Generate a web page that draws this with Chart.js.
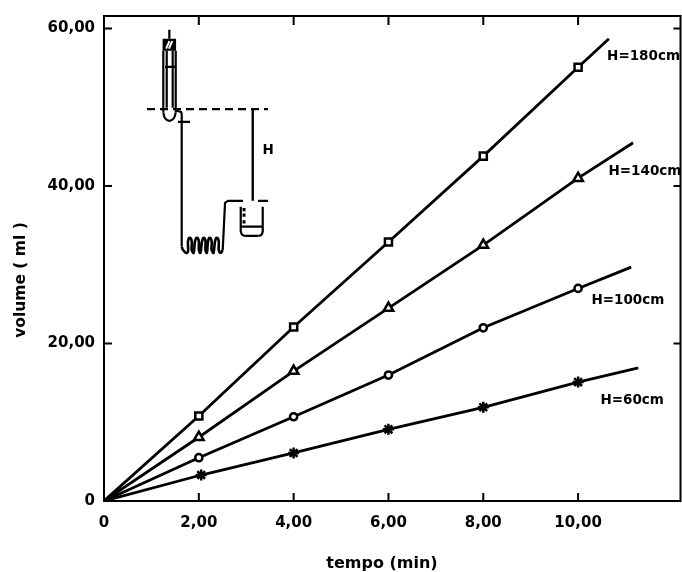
<!DOCTYPE html>
<html lang="en">
<head>
<meta charset="UTF-8">
<title>volume x tempo</title>
<script src="https://cdn.jsdelivr.net/npm/chart.js"></script>
<style>
    body { margin: 0; background: #fff; }
    canvas { display: block; }
</style>
</head>
<body>
<canvas id="chart" width="682" height="572"></canvas>
<script>
    // tick labels
    const xTicks = [0, 2, 4, 6, 8, 10];
    const yTicks = [0, 20, 40, 60];

    // series: first point is the origin, last is the end of the drawn line
    const h180X = [0, 2, 4, 6, 8, 10, 10.65];
    const h180Y = [0, 10.8, 22.1, 32.9, 43.8, 55.1, 58.7];
    const h140X = [0, 2, 4, 6, 8, 10, 11.16];
    const h140Y = [0, 8.1, 16.5, 24.5, 32.5, 41, 45.5];
    const h100X = [0, 2, 4, 6, 8, 10, 11.12];
    const h100Y = [0, 5.5, 10.7, 16, 22, 27, 29.7];
    const h60X = [0, 2.05, 4, 6, 8, 10, 11.27];
    const h60Y = [0, 3.3, 6.1, 9.1, 11.9, 15.1, 16.9];

    // text placed in the plot, in axis units
    const noteText = ['H=180cm', 'H=140cm', 'H=100cm', 'H=60cm', 'H'];
    const noteX = [11.38, 11.41, 11.05, 11.14, 3.46];
    const noteY = [56.4, 41.9, 25.5, 12.74, 44.47];

    // apparatus sketch, in axis units, null breaks the line
    const tubeX = [1.378, 1.378, null, 1.251, 1.251, null, 1.513, 1.513, null, 1.323, 1.323, null, 1.449, 1.449, null,
        1.287, 1.519, null, 1.513, 1.624, 1.639, 1.639, null, 1.561, 1.814, null,
        2.504, 2.553, 2.616, 2.932, null, 2.884, 2.884, null, 3.348, 3.348, null, 2.975, 3.26, null, 2.884, 3.348, null,
        3.249, 3.46];
    const tubeY = [59.85, 58.7, null, 57.2, 49.3, null, 57.2, 49.3, null, 57.2, 49.94, null, 57.2, 49.94, null,
        55.15, 55.15, null, 49.6, 49.43, 49.2, 32.31, null, 48.16, 48.16, null,
        31.89, 37.87, 38.12, 38.12, null, 37.36, 34.18, null, 37.36, 34.18, null, 33.67, 33.67, null, 34.85, 34.85, null,
        38.12, 38.12];
    const coilX = [1.639, 1.667, 1.73, 1.772, 1.772, 1.81, 1.85, 1.85, 1.89, 1.92, 1.96, 2.0, 2.0, 2.035, 2.068, 2.105, 2.14,
        2.14, 2.17, 2.194, 2.23, 2.27, 2.27, 2.31, 2.342, 2.38, 2.42, 2.42, 2.46, 2.504];
    const coilY = [32.31, 31.89, 31.51, 31.7, 33.0, 33.42, 33.0, 31.9, 31.51, 33.0, 33.42, 33.0, 31.9, 31.51, 33.0, 33.42, 33.0,
        31.9, 31.51, 33.0, 33.42, 33.0, 31.9, 31.51, 33.0, 33.42, 33.0, 31.9, 31.51, 31.89];
    const bendX = [1.251, 1.29, 1.38, 1.47, 1.513, null, 2.884, 2.92, 2.975, null, 3.26, 3.32, 3.348];
    const bendY = [49.3, 48.6, 48.28, 48.6, 49.3, null, 34.18, 33.8, 33.67, null, 33.67, 33.8, 34.18];
    const levelX = [0.907, 3.46];
    const levelY = [49.77, 49.77];
    const heightX = [3.137, 3.137];
    const heightY = [49.77, 38.12];
    const plugX = [1.378, 1.378];
    const plugY = [58.7, 57.2];
    const hatchX = [1.31, 1.38, null, 1.37, 1.44];
    const hatchY = [57.45, 58.4, null, 57.45, 58.4];
    const dropX = [2.954, 2.954, null, 2.954, 2.954, null, 2.954, 2.954];
    const dropY = [37.2, 36.8, null, 36.5, 36.1, null, 35.65, 35.25];

    function points(xs, ys) {
        return xs.map((x, i) => ({ x: x, y: ys[i] }));
    }

    function series(xs, ys, style, radius) {
        return {
            data: points(xs, ys),
            borderColor: '#000',
            borderWidth: 2.8,
            pointStyle: style,
            pointBackgroundColor: '#fff',
            pointBorderColor: '#000',
            pointBorderWidth: 2.5,
            pointRadius: ctx => (ctx.dataIndex === 0 || ctx.dataIndex === xs.length - 1) ? 0 : radius,
            tension: 0
        };
    }

    function sketch(xs, ys, width, extra) {
        return Object.assign({
            data: points(xs, ys),
            borderColor: '#000',
            borderWidth: width,
            pointRadius: 0,
            tension: 0,
            borderCapStyle: 'butt'
        }, extra || {});
    }

    function tickLabel(v) {
        return v === 0 ? '0' : v.toFixed(2).replace('.', ',');
    }

    // frame, inward ticks and the free text
    const framePlugin = {
        id: 'frame',
        afterDraw(chart) {
            const c = chart.ctx;
            const a = chart.chartArea;
            const x = chart.scales.x;
            const y = chart.scales.y;
            c.save();
            c.strokeStyle = '#000';
            c.lineWidth = 2;
            c.strokeRect(a.left, a.top, a.right - a.left, a.bottom - a.top);
            c.beginPath();
            xTicks.slice(1).forEach(v => {
                const px = x.getPixelForValue(v);
                c.moveTo(px, a.bottom);
                c.lineTo(px, a.bottom - 8);
                c.moveTo(px, a.top);
                c.lineTo(px, a.top + 9);
            });
            yTicks.slice(1).forEach(v => {
                const py = y.getPixelForValue(v);
                c.moveTo(a.left, py);
                c.lineTo(a.left + 8, py);
                c.moveTo(a.right, py);
                c.lineTo(a.right - 7, py);
            });
            c.stroke();

            c.fillStyle = '#000';
            c.textAlign = 'center';
            c.textBaseline = 'middle';
            c.font = 'bold 13.5px "DejaVu Sans"';
            noteText.forEach((t, i) => {
                c.fillText(t, x.getPixelForValue(noteX[i]), y.getPixelForValue(noteY[i]));
            });

            c.font = 'bold 16px "DejaVu Sans"';
            c.fillText('tempo (min)', 382, 564);
            c.font = 'bold 15.5px "DejaVu Sans"';
            c.translate(21, 280);
            c.rotate(-Math.PI / 2);
            c.fillText('volume ( ml )', 0, 0);
            c.restore();
        }
    };

    new Chart(document.getElementById('chart'), {
        type: 'line',
        data: {
            datasets: [
                series(h180X, h180Y, 'rect', 5),
                series(h140X, h140Y, 'triangle', 5.5),
                series(h100X, h100Y, 'circle', 3.6),
                series(h60X, h60Y, 'star', 5.5),
                sketch(hatchX, hatchY, 2, { borderColor: '#fff' }),
                sketch(plugX, plugY, 13.5),
                sketch(tubeX, tubeY, 2.2),
                sketch(coilX, coilY, 2.6, { tension: 0.4 }),
                sketch(bendX, bendY, 2.2, { tension: 0.4 }),
                sketch(levelX, levelY, 2.2, { borderDash: [8, 5] }),
                sketch(heightX, heightY, 2.4),
                sketch(dropX, dropY, 3)
            ]
        },
        options: {
            responsive: false,
            animation: false,
            layout: { padding: { top: 16, right: 1.5 } },
            plugins: { legend: { display: false }, tooltip: { enabled: false } },
            scales: {
                x: {
                    type: 'linear',
                    min: 0,
                    max: 12.16,
                    afterBuildTicks: s => { s.ticks = xTicks.map(v => ({ value: v })); },
                    afterFit: s => { s.height = 71; },
                    border: { display: false },
                    grid: { display: false },
                    ticks: {
                        callback: tickLabel,
                        color: '#000',
                        maxRotation: 0,
                        autoSkip: false,
                        padding: 5,
                        font: { family: 'DejaVu Sans', size: 15, weight: 'bold' }
                    }
                },
                y: {
                    min: 0,
                    max: 61.6,
                    afterBuildTicks: s => { s.ticks = yTicks.map(v => ({ value: v })); },
                    afterFit: s => { s.width = 104; },
                    border: { display: false },
                    grid: { display: false },
                    ticks: {
                        callback: tickLabel,
                        color: '#000',
                        autoSkip: false,
                        padding: 1,
                        font: { family: 'DejaVu Sans', size: 15, weight: 'bold' }
                    }
                }
            }
        },
        plugins: [framePlugin]
    });
</script>
</body>
</html>
